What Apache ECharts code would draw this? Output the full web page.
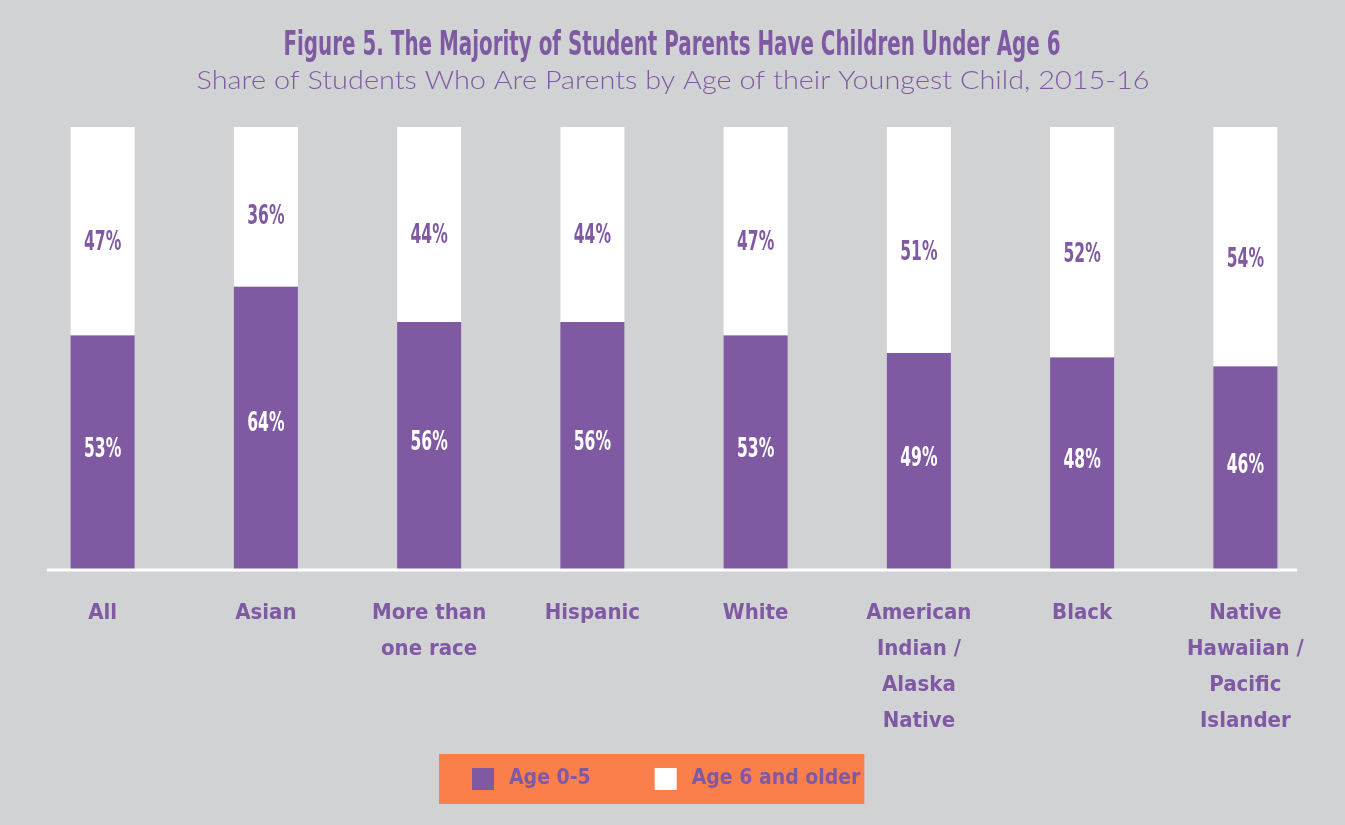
<!DOCTYPE html>
<html>
<head>
<meta charset="utf-8">
<script src="https://cdn.jsdelivr.net/npm/echarts@6/dist/echarts.min.js"></script>
<style>
html,body{margin:0;padding:0;background:#d1d2d4;}
#chart{width:1345px;height:825px;}
</style>
</head>
<body>
<div id="chart"></div>
<script>
const categories = ['All', 'Asian', 'More than\none race', 'Hispanic', 'White', 'American\nIndian /\nAlaska\nNative', 'Black', 'Native\nHawaiian /\nPacific\nIslander'];
const age0to5 = [53, 64, 56, 56, 53, 49, 48, 46];
const age6plus = [47, 36, 44, 44, 47, 51, 52, 54];
const seriesNames = ['Age 0-5', 'Age 6 and older'];
const titleText = 'Figure 5. The Majority of Student Parents Have Children Under Age 6';
const subtitleText = 'Share of Students Who Are Parents by Age of their Youngest Child, 2015-16';

const PURPLE = '#7f5aa3';
const COND = '"DejaVu Sans Condensed", "DejaVu Sans", sans-serif';

function valueLabelSeries(name, values, base, frac, color) {
  return {
    type: 'custom', name: name + ' labels', z: 5, silent: true,
    data: values.map((v, i) => [i, v, base ? base[i] : 0]),
    renderItem: function (params, api) {
      const i = api.value(0), v = api.value(1), b = api.value(2);
      const pt = api.coord([i, b + v * frac]);
      return {
        type: 'text', x: pt[0], y: pt[1] + 4, scaleX: 0.64, scaleY: 1,
        style: {text: v + '%', fill: color, font: 'bold 27px ' + COND, align: 'center', verticalAlign: 'middle'}
      };
    }
  };
}

const chart = echarts.init(document.getElementById('chart'));
chart.setOption({
  backgroundColor: '#d1d2d4',
  animation: false,
  legend: {
    left: 439, top: 754,
    padding: [14, 4, 14, 33],
    backgroundColor: '#fb7f4b',
    itemWidth: 22, itemHeight: 22, itemGap: 64,
    icon: 'rect',
    data: seriesNames,
    textStyle: {color: PURPLE, fontFamily: COND, fontWeight: 'bold', fontSize: 21, padding: [0, 0, 0, 10]}
  },
  grid: {left: 21, right: 18, top: 127, bottom: 255, containLabel: false},
  xAxis: {
    type: 'category', data: categories,
    axisLine: {show: false}, axisTick: {show: false},
    axisLabel: {interval: 0, color: PURPLE, fontFamily: COND, fontWeight: 'bold', fontSize: 22, lineHeight: 36, margin: 25, verticalAlign: 'top'}
  },
  yAxis: {type: 'value', min: 0, max: 100, show: false, splitLine: {show: false}},
  series: [{
    name: seriesNames[0], type: 'bar', stack: 'a', data: age0to5, barWidth: 64,
    itemStyle: {color: PURPLE}
  }, {
    name: seriesNames[1], type: 'bar', stack: 'a', data: age6plus, barWidth: 64,
    itemStyle: {color: '#ffffff'}
  },
    valueLabelSeries(seriesNames[0], age0to5, null, 0.53, '#ffffff'),
    valueLabelSeries(seriesNames[1], age6plus, age0to5, 0.46, PURPLE)
  ],
  graphic: [{
    type: 'text', x: 672, y: 46, scaleX: 0.67, z: 20,
    style: {text: titleText, fill: PURPLE, font: 'bold 33px ' + COND, align: 'center', verticalAlign: 'middle'}
  }, {
    type: 'text', x: 673, y: 81, scaleX: 1.155, z: 20,
    style: {text: subtitleText, fill: PURPLE, font: '300 25px Lato, "Open Sans", sans-serif', align: 'center', verticalAlign: 'middle'}
  }, {
    type: 'line', shape: {x1: 47, y1: 570, x2: 1297, y2: 570},
    style: {stroke: '#ffffff', lineWidth: 3}, z: 10
  }]
});
</script>
</body>
</html>
